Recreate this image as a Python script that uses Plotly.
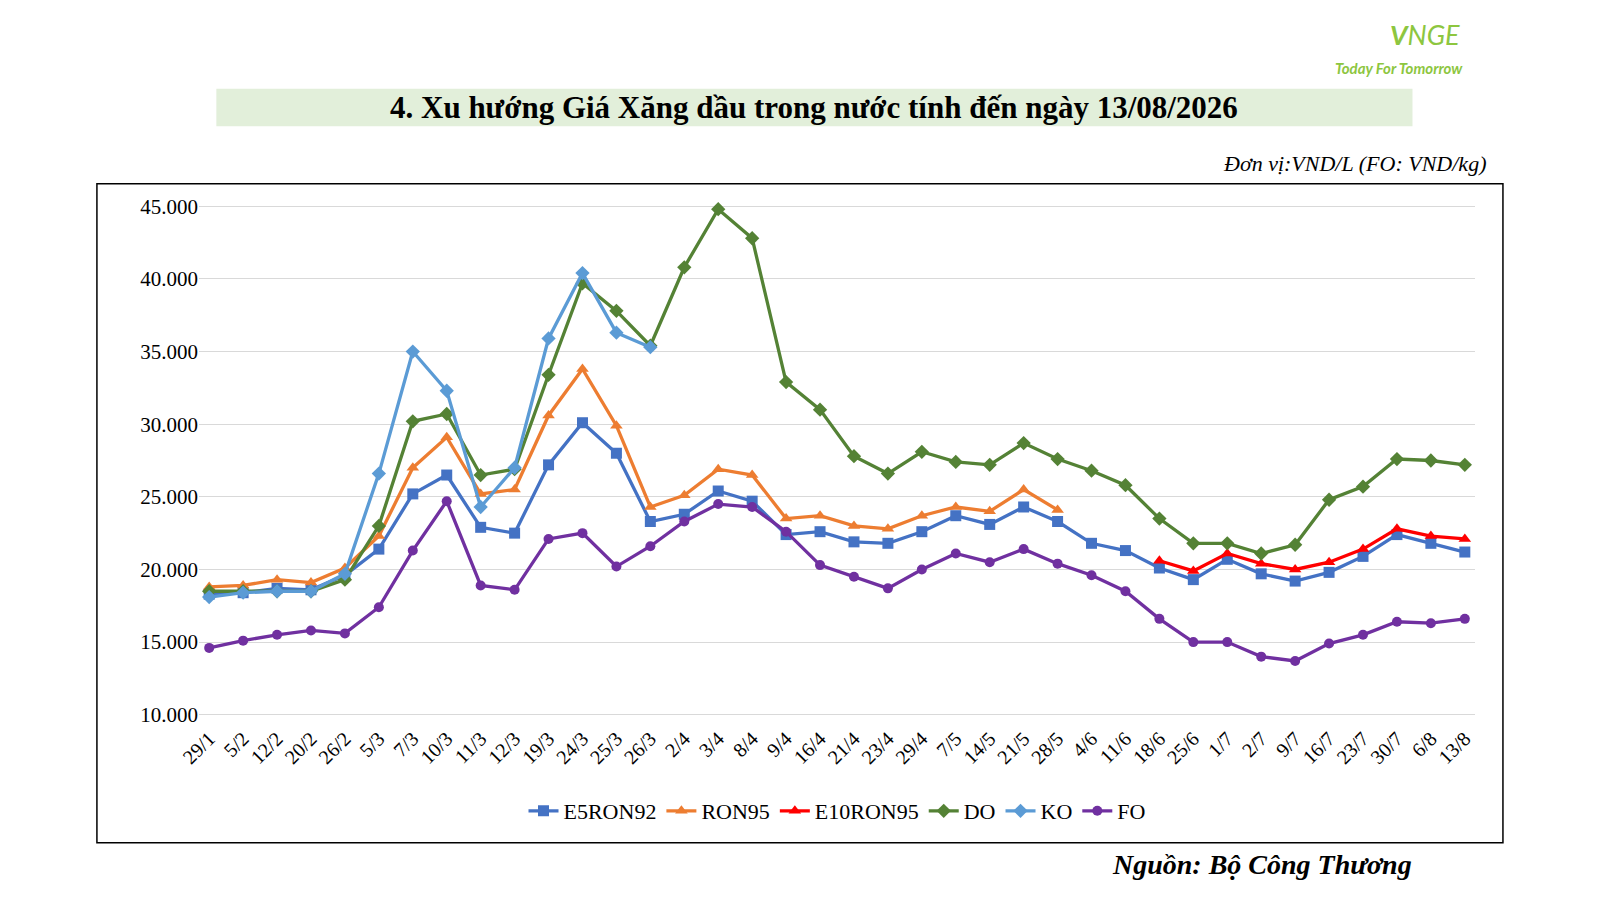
import plotly.graph_objects as go

dates = ["29/1", "5/2", "12/2", "20/2", "26/2", "5/3", "7/3", "10/3", "11/3", "12/3", "19/3", "24/3",
         "25/3", "26/3", "2/4", "3/4", "8/4", "9/4", "16/4", "21/4", "23/4", "29/4", "7/5", "14/5",
         "21/5", "28/5", "4/6", "11/6", "18/6", "25/6", "1/7", "2/7", "9/7", "16/7", "23/7", "30/7",
         "6/8", "13/8"]

e5ron92 = [18300, 18400, 18700, 18600, 19600, 21400, 25200, 26500, 22900, 22500, 27200, 30100,
           28000, 23300, 23800, 25400, 24700, 22400, 22600, 21900, 21800, 22600, 23700, 23100,
           24300, 23300, 21800, 21300, 20100, 19300, 20700, 19700, 19200, 19800, 20900, 22400,
           21800, 21200]
ron95 = [18800, 18900, 19300, 19100, 20100, 22300, 27000, 29100, 25200, 25500, 30600, 33800,
         29900, 24300, 25100, 26900, 26500, 23500, 23700, 23000, 22800, 23700, 24300, 24000,
         25500, 24100] + [None] * 12
e10ron95 = [None] * 28 + [20600, 19900, 21100, 20400, 20000, 20500, 21400, 22800, 22300, 22100]
do = [18500, 18500, 18500, 18500, 19300, 23000, 30200, 30700, 26500, 26900, 33400, 39700,
      37800, 35400, 40800, 44800, 42800, 32900, 31000, 27800, 26600, 28100, 27400, 27200,
      28700, 27600, 26800, 25800, 23500, 21800, 21800, 21100, 21700, 24800, 25700, 27600,
      27500, 27200]
ko = [18100, 18400, 18500, 18500, 19700, 26600, 35000, 32300, 24300, 27000, 35900, 40400,
      36300, 35300] + [None] * 24
fo = [14600, 15100, 15500, 15800, 15600, 17400, 21300, 24700, 18900, 18600, 22100, 22500,
      20200, 21600, 23300, 24500, 24300, 22600, 20300, 19500, 18700, 20000, 21100, 20500,
      21400, 20400, 19600, 18500, 16600, 15000, 15000, 14000, 13700, 14900, 15500, 16400,
      16300, 16600]

series = [
    ("E5RON92", e5ron92, "#4472C4", "square"),
    ("RON95", ron95, "#ED7D31", "triangle-up"),
    ("E10RON95", e10ron95, "#FF0000", "triangle-up"),
    ("DO", do, "#548235", "diamond"),
    ("KO", ko, "#5B9BD5", "diamond"),
    ("FO", fo, "#7030A0", "circle"),
]

fig = go.Figure()
for name, vals, color, sym in series:
    fig.add_trace(go.Scatter(
        x=dates, y=vals, name=name, mode="lines+markers",
        line=dict(color=color, width=3.3),
        marker=dict(symbol=sym, size=11 if sym != "circle" else 10, color=color),
    ))

font = "Liberation Serif"
fig.update_layout(
    width=1584, height=884,
    margin=dict(l=191, r=117, t=191, b=170),
    plot_bgcolor="white", paper_bgcolor="white",
    font=dict(family=font, size=20, color="black"),
    showlegend=True,
    legend=dict(orientation="h", x=0.5, xanchor="center", y=-0.13, yanchor="top",
                font=dict(size=22), bgcolor="rgba(0,0,0,0)"),
    xaxis=dict(type="category", range=[-0.3, 37.3], tickangle=-45, showgrid=False,
               ticks="", tickfont=dict(size=20)),
    yaxis=dict(range=[9500, 45500], tickvals=[10000, 15000, 20000, 25000, 30000, 35000, 40000, 45000],
               ticktext=["10.000", "15.000", "20.000", "25.000", "30.000", "35.000", "40.000", "45.000"],
               gridcolor="#D9D9D9", gridwidth=1, zeroline=False, tickfont=dict(size=21)),
    shapes=[
        dict(type="rect", xref="paper", yref="paper", x0=-0.08, x1=1.0219, y0=-0.231, y1=1.029,
             line=dict(color="black", width=1.5), fillcolor="rgba(0,0,0,0)"),
        dict(type="rect", xref="paper", yref="paper", x0=0.0136, x1=0.951, y0=1.139, y1=1.211,
             line=dict(width=0), fillcolor="#E2EFDA", layer="below"),
    ],
    annotations=[
        dict(text="<b>4. Xu hướng Giá Xăng dầu trong nước tính đến ngày 13/08/2026</b>",
             xref="paper", yref="paper", x=0.482, y=1.175, yanchor="middle", showarrow=False,
             font=dict(size=31, family=font)),
        dict(text="<i>Đơn vị:VND/L (FO: VND/kg)</i>", xref="paper", yref="paper",
             x=1.01, y=1.068, xanchor="right", yanchor="middle", showarrow=False,
             font=dict(size=22, family=font)),
        dict(text="<b><i>Nguồn: Bộ Công Thương</i></b>", xref="paper", yref="paper",
             x=0.952, y=-0.273, xanchor="right", yanchor="middle", showarrow=False,
             font=dict(size=28, family=font)),
        dict(text="<i><b>V</b>NGE</i>", xref="paper", yref="paper", x=0.99, y=1.315,
             yanchor="middle", showarrow=False, font=dict(size=27, color="#8DC63F", family="Lato")),
        dict(text="<i><b>Today For Tomorrow</b></i>", xref="paper", yref="paper", x=0.992, y=1.25,
             yanchor="middle", showarrow=False, font=dict(size=15, color="#8DC63F", family="Lato")),
    ],
)

fig.write_html("out.html")
